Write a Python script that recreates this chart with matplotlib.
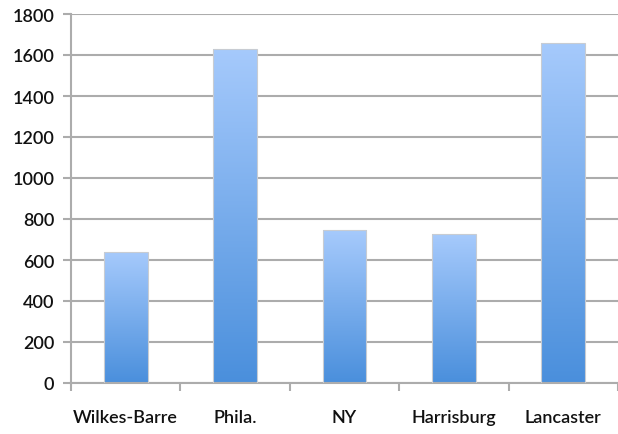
import numpy as np
import matplotlib.pyplot as plt
from matplotlib.colors import LinearSegmentedColormap

cities = ["Wilkes-Barre", "Phila.", "NY", "Harrisburg", "Lancaster"]
counts = [640, 1630, 745, 725, 1660]
yticks = [0, 200, 400, 600, 800, 1000, 1200, 1400, 1600, 1800]

plt.rcParams['font.family'] = ['Lato', 'DejaVu Sans']

fig = plt.figure(figsize=(6.18, 4.35), dpi=100)
ax = fig.add_axes([71 / 618, 51 / 435, 547 / 618, 369 / 435])

grid_col = "#acacac"
text_col = "#111111"
x = np.arange(len(cities))
bars = ax.bar(x, counts, width=0.4, color="none", edgecolor="#c8ccd2",
              linewidth=0.8, zorder=3)

# vertical gradient fill, light on top, darker at the base
cmap = LinearSegmentedColormap.from_list("blues", ["#4a8fdc", "#a6cafc"])
grad = np.linspace(0, 1, 256).reshape(-1, 1)
for b in bars:
    x0, y0 = b.get_x(), b.get_y()
    w, h = b.get_width(), b.get_height()
    im = ax.imshow(grad, cmap=cmap, origin="lower", aspect="auto",
                   extent=[x0, x0 + w, y0, y0 + h], zorder=2)
    im.set_clip_path(b)

ax.set_xlim(-0.5, len(cities) - 0.5)
ax.set_ylim(0, 1800)
ax.set_yticks(yticks)
ax.set_yticklabels([str(v) for v in yticks], fontsize=13, fontweight="semibold")
ax.yaxis.grid(True, color=grid_col, linewidth=1.5, zorder=0)
ax.set_axisbelow(True)

ax.set_xticks(np.arange(-0.5, len(cities), 1.0))
ax.set_xticklabels([])
ax.set_xticks(x, minor=True)
ax.set_xticklabels(cities, minor=True, fontsize=13, fontweight="semibold",
                   color=text_col)
ax.tick_params(axis="x", which="minor", length=0, pad=19)
ax.tick_params(axis="x", which="major", length=6, width=1.5, color=grid_col)
ax.tick_params(axis="y", length=6, width=1.5, color=grid_col,
               labelcolor=text_col, pad=6)

for s in ["top", "right"]:
    ax.spines[s].set_visible(False)
for s in ["left", "bottom"]:
    ax.spines[s].set_color(grid_col)
    ax.spines[s].set_linewidth(1.5)

fig.savefig("out.png", dpi=100)
